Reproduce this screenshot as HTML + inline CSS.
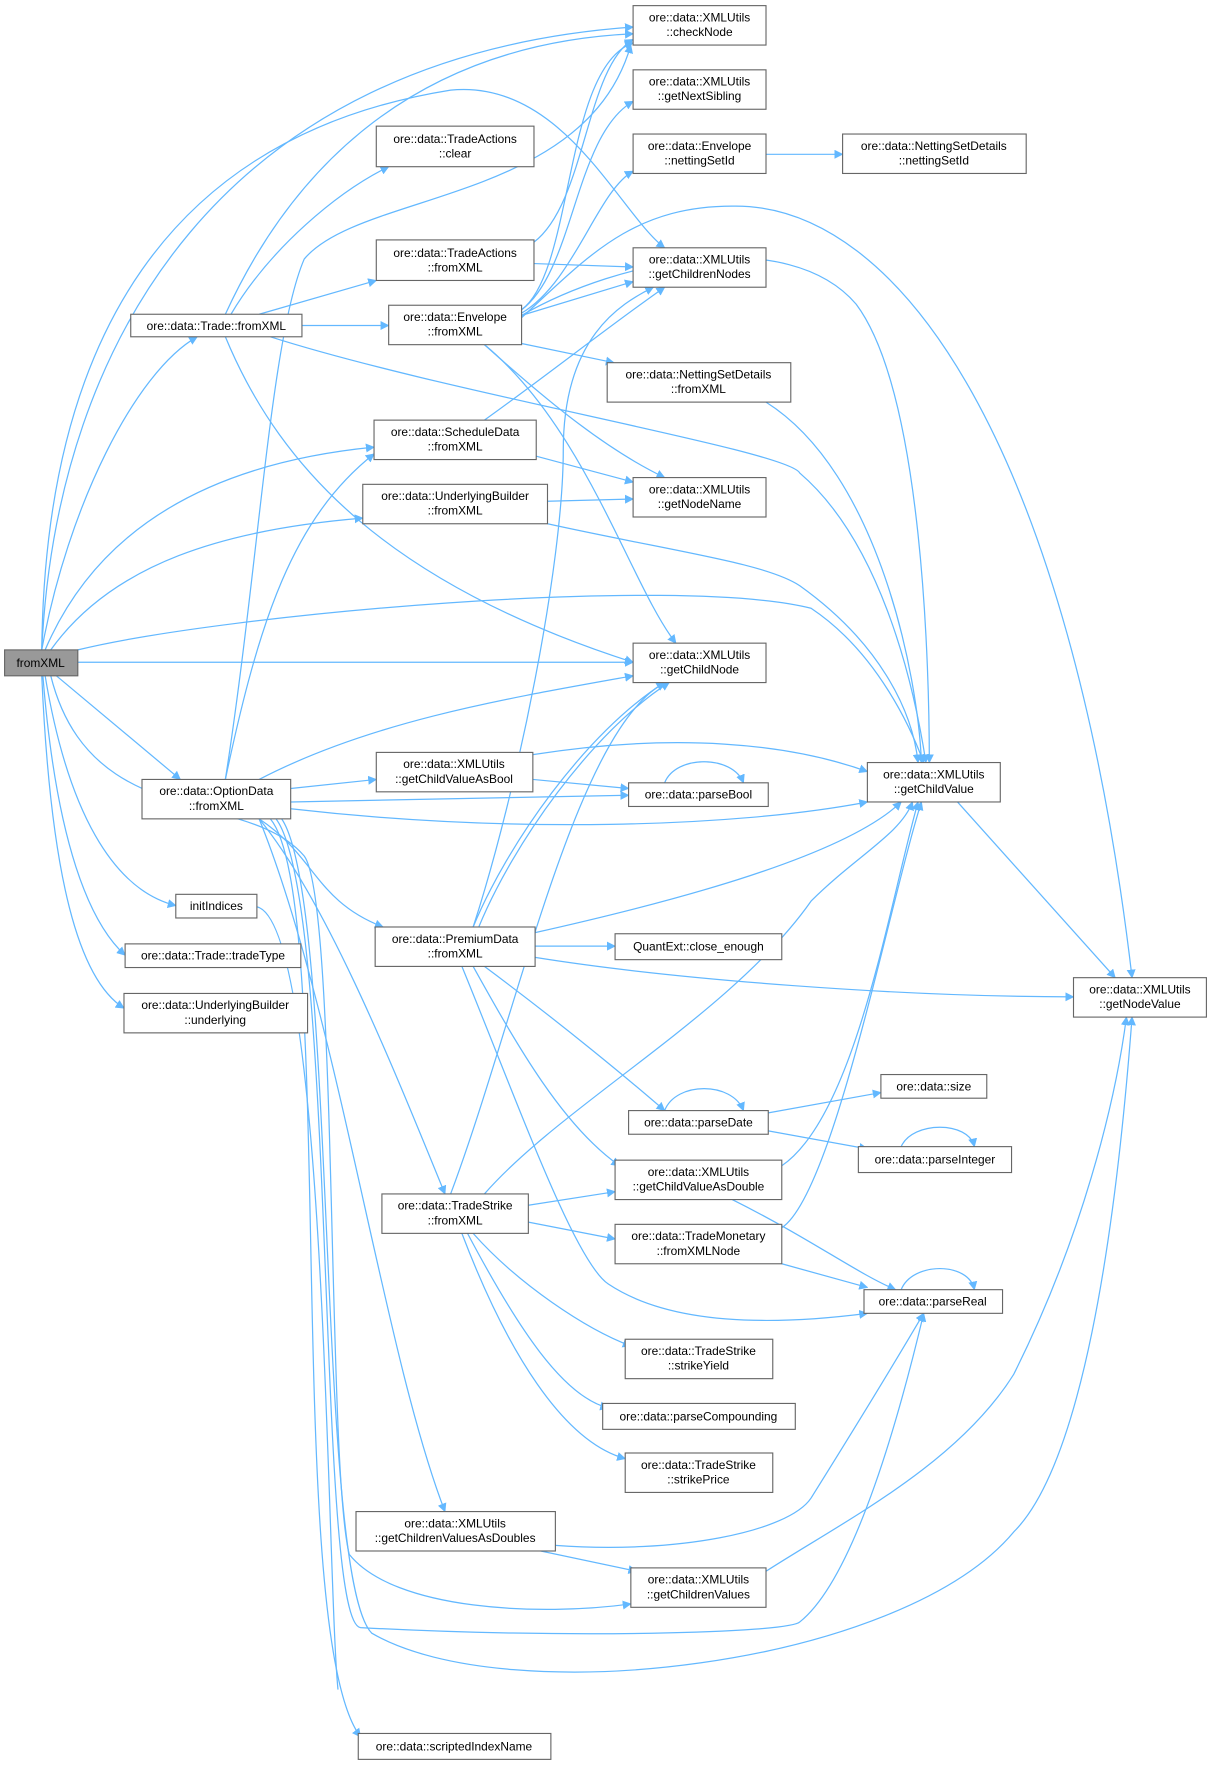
<!DOCTYPE html>
<html><head><meta charset="utf-8"><style>
html,body{margin:0;padding:0;background:#fff;}
svg{display:block}
text{font-family:"Liberation Sans",sans-serif;font-size:10.6px;fill:#000;text-anchor:middle}
.e{fill:none;stroke:#63b8ff;stroke-width:1.1}
rect{fill:#fff;stroke:#666;stroke-width:1}
</style></head><body>
<svg width="1211" height="1765" viewBox="0 0 1075 1567" xmlns="http://www.w3.org/2000/svg">
<defs><marker id="a" viewBox="0 0 10 10" refX="9" refY="5" markerWidth="8" markerHeight="8" markerUnits="userSpaceOnUse" orient="auto"><path d="M0,0 L10,5 L0,10 z" fill="#63b8ff"/></marker></defs>
<g class="e" marker-end="url(#a)">
<path d="M37,577 C60,450 120,330 175,299"/>
<path d="M37,577 C50,300 200,50 562,24"/>
<path d="M37,577 C40,300 150,120 400,80 C500,70 550,190 590,220"/>
<path d="M40,577 C90,460 200,410 332,397"/>
<path d="M45,577 C100,500 200,470 322,460"/>
<path d="M69,577 C200,545 600,510 720,540 C780,580 810,650 820,677"/>
<path d="M69,588 L562,588"/>
<path d="M50,600 L160,692"/>
<path d="M40,600 C60,720 100,790 156,804"/>
<path d="M38,600 C50,750 80,820 111,848"/>
<path d="M37,600 C45,780 70,870 110,895"/>
<path d="M45,600 C80,740 220,700 270,760 C300,800 290,1300 310,1380 C350,1430 480,1435 560,1424"/>
<path d="M200,279 C250,170 350,40 562,30"/>
<path d="M205,279 C240,220 300,170 345,148"/>
<path d="M230,279 L334,249"/>
<path d="M268,289 L345,289"/>
<path d="M240,299 C400,350 700,400 710,420 C780,480 810,600 822,677"/>
<path d="M200,299 C250,420 350,520 562,588"/>
<path d="M474,215 C520,180 520,60 562,35"/>
<path d="M474,234 L562,237"/>
<path d="M463,275 C510,240 500,60 562,38"/>
<path d="M463,275 C510,240 510,120 562,90"/>
<path d="M463,278 C510,250 530,170 562,152"/>
<path d="M463,280 L562,250"/>
<path d="M463,305 L545,322"/>
<path d="M430,306 C490,360 540,400 590,424"/>
<path d="M430,306 C520,380 560,520 600,571"/>
<path d="M463,280 C550,230 700,200 760,270 C820,350 825,600 825,677"/>
<path d="M463,282 C520,230 560,183 650,183 C800,180 950,400 1005,868"/>
<path d="M680,137 L748,137"/>
<path d="M680,357 C780,420 815,600 818,677"/>
<path d="M430,373 C490,330 540,290 590,255"/>
<path d="M476,405 L562,428"/>
<path d="M486,445 L562,443"/>
<path d="M486,465 C600,490 680,500 710,520 C780,570 810,630 815,677"/>
<path d="M200,692 C230,500 240,300 270,230 C320,170 520,180 560,40"/>
<path d="M200,692 C230,550 260,460 332,403"/>
<path d="M230,692 C330,640 450,620 562,600"/>
<path d="M258,700 L334,692"/>
<path d="M258,712 L558,706"/>
<path d="M258,718 C450,740 650,735 770,712"/>
<path d="M230,727 C280,760 280,800 340,823"/>
<path d="M230,727 C290,800 350,950 395,1060"/>
<path d="M230,727 C300,900 340,1200 395,1342"/>
<path d="M240,727 C300,800 250,1450 320,1542"/>
<path d="M250,727 C300,800 280,1400 330,1450 C450,1520 800,1480 900,1360 C960,1300 990,1100 1005,903"/>
<path d="M245,727 C300,800 280,1440 320,1445 C500,1455 700,1450 710,1440 C760,1400 800,1250 820,1166"/>
<path d="M473,670 C600,650 700,660 770,685"/>
<path d="M473,692 L558,700"/>
<path d="M590,695 C600,670 650,670 660,695"/>
<path d="M420,823 C450,750 520,650 590,606"/>
<path d="M425,823 C455,750 525,650 594,606"/>
<path d="M420,823 C460,700 500,500 500,400 C500,300 550,270 580,255"/>
<path d="M475,828 C600,800 750,760 800,712"/>
<path d="M475,840 L546,840"/>
<path d="M475,850 C600,870 800,885 953,885"/>
<path d="M430,858 C500,910 560,960 590,986"/>
<path d="M420,858 C460,930 500,1000 550,1035"/>
<path d="M410,858 C460,980 510,1120 540,1140 C600,1180 700,1175 770,1166"/>
<path d="M590,986 C600,960 650,960 660,986"/>
<path d="M682,988 L782,970"/>
<path d="M682,1004 L770,1020"/>
<path d="M800,1018 C810,995 860,995 865,1018"/>
<path d="M694,1035 C760,990 790,800 815,712"/>
<path d="M650,1065 C720,1100 760,1130 795,1145"/>
<path d="M400,1060 C460,900 510,650 590,606"/>
<path d="M430,1060 C500,980 650,900 720,800 C760,760 800,740 810,712"/>
<path d="M469,1070 L546,1058"/>
<path d="M469,1085 L546,1100"/>
<path d="M420,1095 C460,1140 520,1180 560,1195"/>
<path d="M415,1095 C460,1180 500,1240 540,1250"/>
<path d="M410,1095 C450,1200 500,1280 555,1295"/>
<path d="M694,1090 C740,1060 790,800 818,712"/>
<path d="M694,1122 L770,1143"/>
<path d="M800,1145 C810,1120 860,1120 865,1145"/>
<path d="M493,1372 C600,1380 700,1360 720,1330 C770,1250 800,1200 820,1166"/>
<path d="M480,1377 L565,1395"/>
<path d="M680,1395 C750,1350 850,1300 900,1220 C960,1100 990,980 1000,903"/>
<path d="M850,712 L990,868"/>
</g>
<path class="e" d="M228,805 C290,820 290,1400 300,1500"/>
<g>
<rect x="4" y="577" width="65" height="23" style="fill:#999"/><text x="36" y="592">fromXML</text>
<rect x="562" y="5" width="118" height="35"/><text x="621" y="19">ore::data::XMLUtils</text><text x="621" y="32">::checkNode</text>
<rect x="562" y="62" width="118" height="35"/><text x="621" y="76">ore::data::XMLUtils</text><text x="621" y="89">::getNextSibling</text>
<rect x="562" y="119" width="118" height="35"/><text x="621" y="133">ore::data::Envelope</text><text x="621" y="146">::nettingSetId</text>
<rect x="748" y="119" width="163" height="35"/><text x="829" y="133">ore::data::NettingSetDetails</text><text x="829" y="146">::nettingSetId</text>
<rect x="334" y="112" width="140" height="36"/><text x="404" y="127">ore::data::TradeActions</text><text x="404" y="140">::clear</text>
<rect x="562" y="220" width="118" height="35"/><text x="621" y="234">ore::data::XMLUtils</text><text x="621" y="247">::getChildrenNodes</text>
<rect x="334" y="213" width="140" height="36"/><text x="404" y="228">ore::data::TradeActions</text><text x="404" y="241">::fromXML</text>
<rect x="116" y="279" width="152" height="20"/><text x="192" y="293">ore::data::Trade::fromXML</text>
<rect x="345" y="271" width="118" height="35"/><text x="404" y="285">ore::data::Envelope</text><text x="404" y="298">::fromXML</text>
<rect x="539" y="322" width="163" height="35"/><text x="620" y="336">ore::data::NettingSetDetails</text><text x="620" y="349">::fromXML</text>
<rect x="332" y="373" width="144" height="35"/><text x="404" y="387">ore::data::ScheduleData</text><text x="404" y="400">::fromXML</text>
<rect x="322" y="430" width="164" height="35"/><text x="404" y="444">ore::data::UnderlyingBuilder</text><text x="404" y="457">::fromXML</text>
<rect x="562" y="424" width="118" height="35"/><text x="621" y="438">ore::data::XMLUtils</text><text x="621" y="451">::getNodeName</text>
<rect x="562" y="571" width="118" height="35"/><text x="621" y="585">ore::data::XMLUtils</text><text x="621" y="598">::getChildNode</text>
<rect x="334" y="668" width="139" height="35"/><text x="403" y="682">ore::data::XMLUtils</text><text x="403" y="695">::getChildValueAsBool</text>
<rect x="558" y="695" width="124" height="21"/><text x="620" y="709">ore::data::parseBool</text>
<rect x="770" y="677" width="118" height="35"/><text x="829" y="691">ore::data::XMLUtils</text><text x="829" y="704">::getChildValue</text>
<rect x="126" y="692" width="132" height="35"/><text x="192" y="706">ore::data::OptionData</text><text x="192" y="719">::fromXML</text>
<rect x="156" y="794" width="72" height="21"/><text x="192" y="808">initIndices</text>
<rect x="111" y="838" width="156" height="21"/><text x="189" y="852">ore::data::Trade::tradeType</text>
<rect x="110" y="882" width="163" height="35"/><text x="191" y="896">ore::data::UnderlyingBuilder</text><text x="191" y="909">::underlying</text>
<rect x="333" y="823" width="142" height="35"/><text x="404" y="837">ore::data::PremiumData</text><text x="404" y="850">::fromXML</text>
<rect x="546" y="829" width="148" height="23"/><text x="620" y="844">QuantExt::close_enough</text>
<rect x="953" y="868" width="118" height="35"/><text x="1012" y="882">ore::data::XMLUtils</text><text x="1012" y="895">::getNodeValue</text>
<rect x="782" y="954" width="94" height="21"/><text x="829" y="968">ore::data::size</text>
<rect x="558" y="986" width="124" height="21"/><text x="620" y="1000">ore::data::parseDate</text>
<rect x="762" y="1018" width="136" height="23"/><text x="830" y="1033">ore::data::parseInteger</text>
<rect x="546" y="1030" width="148" height="35"/><text x="620" y="1044">ore::data::XMLUtils</text><text x="620" y="1057">::getChildValueAsDouble</text>
<rect x="339" y="1060" width="130" height="35"/><text x="404" y="1074">ore::data::TradeStrike</text><text x="404" y="1087">::fromXML</text>
<rect x="546" y="1087" width="148" height="35"/><text x="620" y="1101">ore::data::TradeMonetary</text><text x="620" y="1114">::fromXMLNode</text>
<rect x="767" y="1145" width="123" height="21"/><text x="828" y="1159">ore::data::parseReal</text>
<rect x="555" y="1189" width="131" height="35"/><text x="620" y="1203">ore::data::TradeStrike</text><text x="620" y="1216">::strikeYield</text>
<rect x="535" y="1246" width="171" height="23"/><text x="620" y="1261">ore::data::parseCompounding</text>
<rect x="555" y="1290" width="131" height="35"/><text x="620" y="1304">ore::data::TradeStrike</text><text x="620" y="1317">::strikePrice</text>
<rect x="316" y="1342" width="177" height="35"/><text x="404" y="1356">ore::data::XMLUtils</text><text x="404" y="1369">::getChildrenValuesAsDoubles</text>
<rect x="560" y="1392" width="120" height="35"/><text x="620" y="1406">ore::data::XMLUtils</text><text x="620" y="1419">::getChildrenValues</text>
<rect x="318" y="1539" width="171" height="23"/><text x="403" y="1554">ore::data::scriptedIndexName</text>
</g>
</svg>
</body></html>
